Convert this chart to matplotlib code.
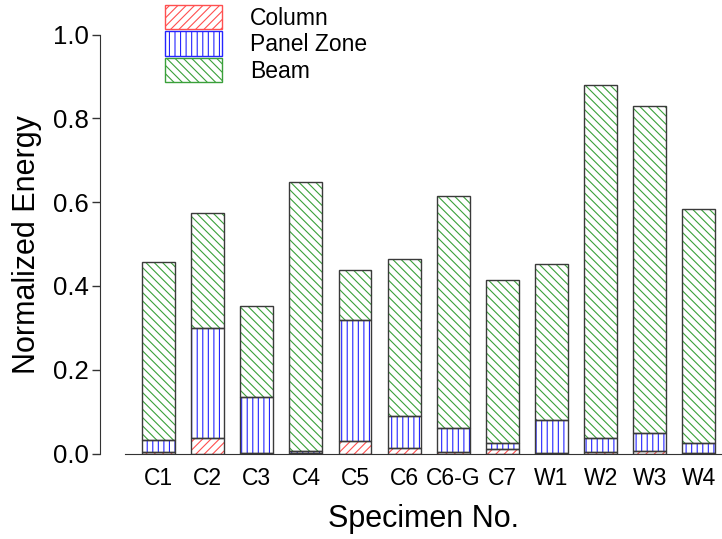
import matplotlib
matplotlib.use("Agg")
import matplotlib.pyplot as plt
from matplotlib.patches import Patch
import numpy as np

plt.rcParams["font.family"] = ["Liberation Sans", "DejaVu Sans"]
plt.rcParams["hatch.linewidth"] = 0.8

specimens = ["C1", "C2", "C3", "C4", "C5", "C6", "C6-G", "C7", "W1", "W2", "W3", "W4"]
column = [0.004, 0.038, 0.001, 0.001, 0.031, 0.012, 0.003, 0.010, 0.002, 0.003, 0.005, 0.001]
panel_zone = [0.029, 0.262, 0.134, 0.004, 0.287, 0.077, 0.057, 0.014, 0.079, 0.035, 0.043, 0.023]
beam = [0.424, 0.275, 0.217, 0.643, 0.120, 0.375, 0.555, 0.390, 0.371, 0.843, 0.781, 0.561]

series = [
    ("Column", column, "#ff5050", "////"),
    ("Panel Zone", panel_zone, "#2525ff", "|||"),
    ("Beam", beam, "#3aa03a", "\\\\\\\\"),
]

W, H = 722, 539
fig = plt.figure(figsize=(W / 100, H / 100), dpi=100)
ax = fig.add_axes([125 / W, 1 - 453.5 / H, 1 - 125 / W, (453.5 - 34.7) / H])

x = np.arange(len(specimens))
width = 0.67
bottom = np.zeros(len(specimens))
handles = []
for name, vals, col, hatch in series:
    vals = np.asarray(vals)
    ax.bar(x, vals, width, bottom=bottom, color="white", edgecolor=col,
           hatch=hatch, linewidth=0, zorder=2)
    ax.bar(x, vals, width, bottom=bottom, fill=False, edgecolor="#3a3a3a",
           linewidth=1.0, zorder=3)
    bottom = bottom + vals
    handles.append(Patch(facecolor="white", edgecolor=col, hatch=hatch,
                         linewidth=1.0, label=name))

ax.set_xlim(-0.682, 11.47)
ax.set_ylim(0, 1.0)
ax.set_yticks([0.0, 0.2, 0.4, 0.6, 0.8, 1.0])
ax.set_yticklabels(["0.0", "0.2", "0.4", "0.6", "0.8", "1.0"])
ax.set_xticks(x)
ax.set_xticklabels(specimens)

for s in ("top", "right"):
    ax.spines[s].set_visible(False)
ax.spines["left"].set_position(("outward", 18))
ax.spines["left"].set_bounds(0, 1.0)
ax.spines["left"].set_color("#333333")
ax.spines["bottom"].set_color("#333333")

ax.tick_params(axis="y", direction="out", length=6, width=1, pad=2,
               labelsize=18.5, color="#333333")
ax.tick_params(axis="x", length=0, pad=10, labelsize=16.5)

ax.set_ylabel("Normalized Energy", fontsize=22, labelpad=8)
ax.set_xlabel("Specimen No.", fontsize=22, labelpad=10)

fig.legend(handles=handles, loc="upper left",
           bbox_to_anchor=(165 / W, 1 - 5 / H), frameon=False,
           borderpad=0, borderaxespad=0,
           fontsize=16.5, handlelength=2.5, handleheight=1.25,
           handletextpad=1.2, labelspacing=0.07)

fig.savefig("out.png", dpi=100)
